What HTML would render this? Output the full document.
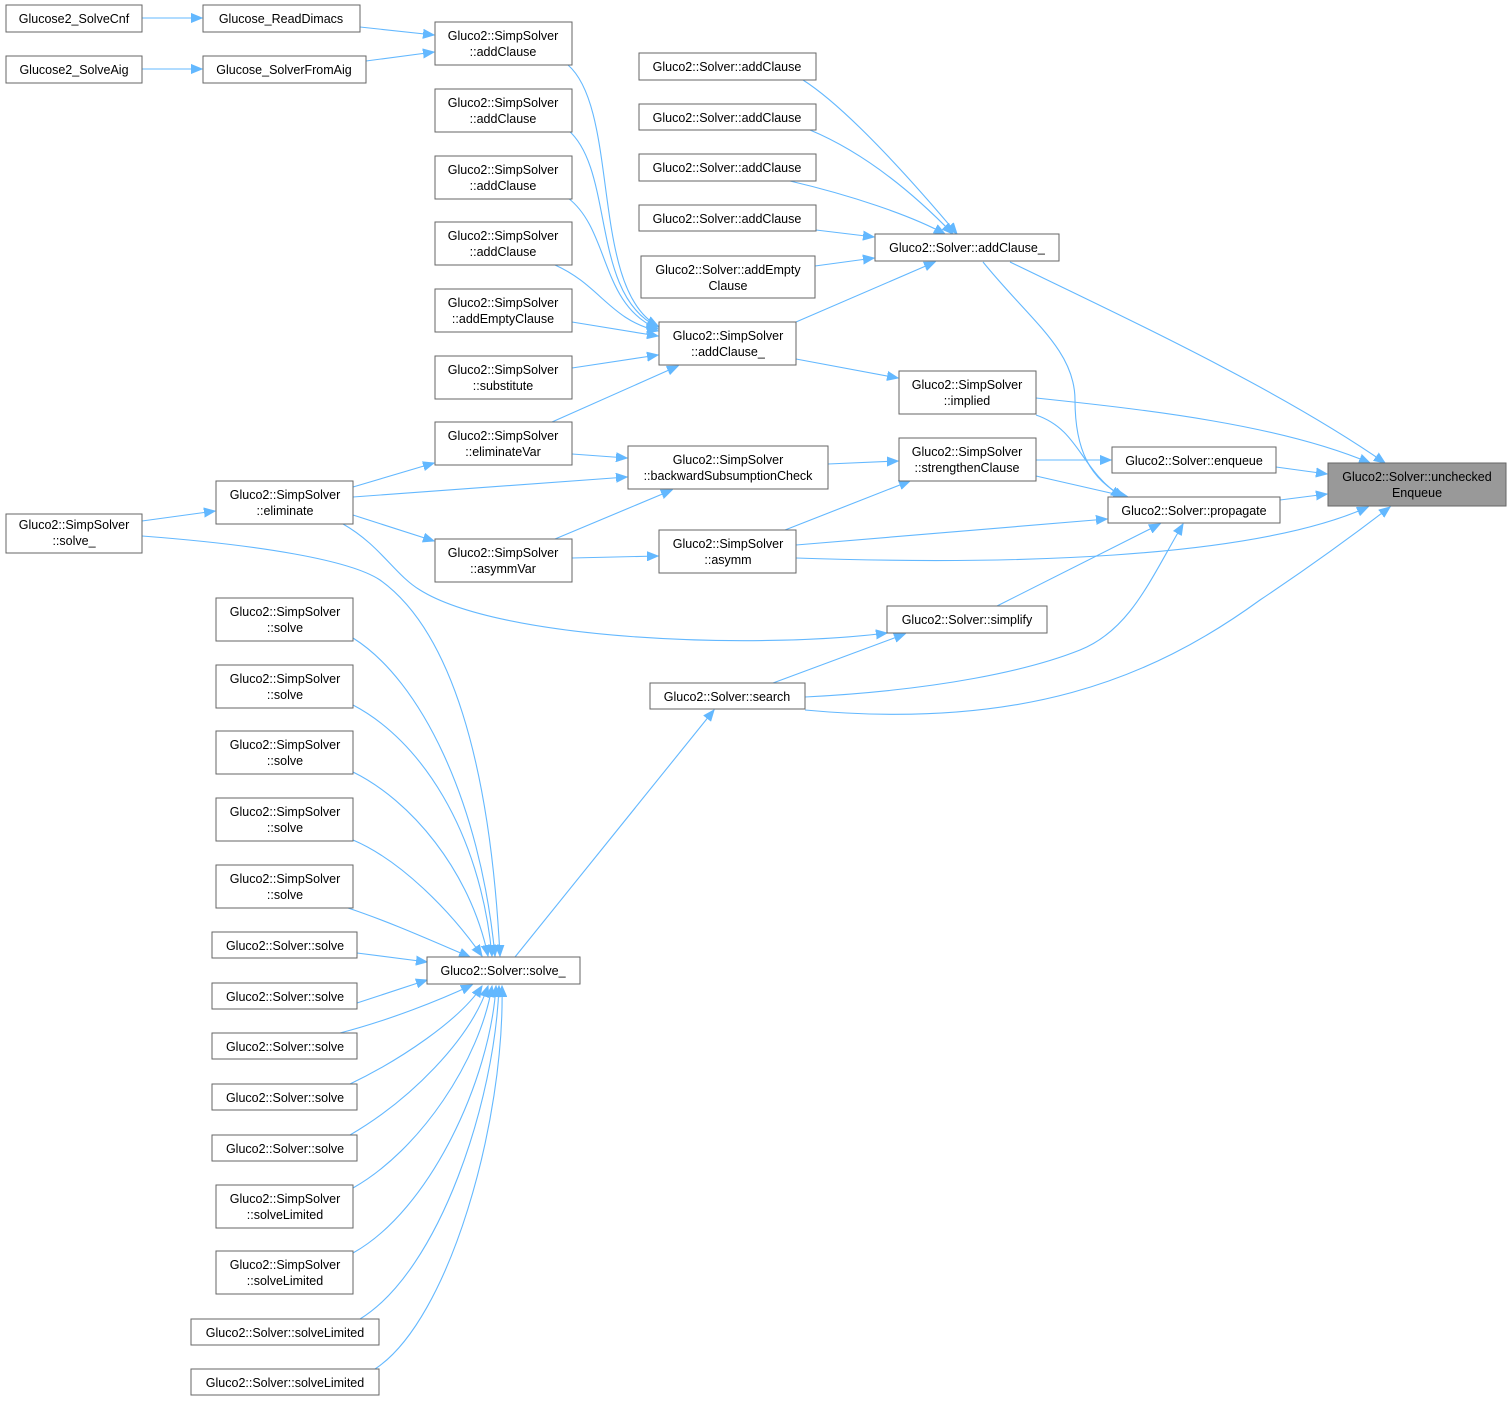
<!DOCTYPE html>
<html><head><meta charset="utf-8"><style>
html,body{margin:0;padding:0;background:#fff;}
svg{display:block;}
text{font-family:"Liberation Sans",Arial,sans-serif;font-size:12.5px;fill:#000;text-anchor:middle;}
.n{fill:#fff;stroke:#666;stroke-width:1;}
.e{fill:none;stroke:#63b8ff;stroke-width:1.1;marker-end:url(#a);}
</style></head><body>
<svg width="1512" height="1401" viewBox="0 0 1512 1401" xmlns="http://www.w3.org/2000/svg">
<defs><marker id="a" markerUnits="userSpaceOnUse" markerWidth="12" markerHeight="10" refX="11" refY="5" orient="auto"><path d="M0,0.5 L11,5 L0,9.5 z" fill="#63b8ff" stroke="#63b8ff"/></marker></defs>

<!-- edges -->
<path class="e" d="M142,18 L202,18"/>
<path class="e" d="M142,69 L202,69"/>
<path class="e" d="M360,27 L434,35"/>
<path class="e" d="M366,61 L434,52"/>
<path class="e" d="M568,65 C620,110 590,290 658,326"/>
<path class="e" d="M568,130 C615,170 590,295 658,327"/>
<path class="e" d="M568,198 C610,230 600,305 658,329"/>
<path class="e" d="M555,265 C600,285 610,320 658,331"/>
<path class="e" d="M572,322 L658,336"/>
<path class="e" d="M572,368 L658,355"/>
<path class="e" d="M552,422 L678,366"/>
<path class="e" d="M353,487 L434,463"/>
<path class="e" d="M353,515 L434,541"/>
<path class="e" d="M353,497 L627,477"/>
<path class="e" d="M572,454 L627,458"/>
<path class="e" d="M555,539 L672,490"/>
<path class="e" d="M572,558 L658,556"/>
<path class="e" d="M142,521 L215,511"/>
<path class="e" d="M828,464 L898,461"/>
<path class="e" d="M785,530 L910,481"/>
<path class="e" d="M796,359 L898,378"/>
<path class="e" d="M796,322 L935,262"/>
<path class="e" d="M803,80 C850,110 920,190 957,234"/>
<path class="e" d="M810,130 C870,155 920,200 953,234"/>
<path class="e" d="M790,181 C850,195 910,215 945,234"/>
<path class="e" d="M816,230 L874,237"/>
<path class="e" d="M815,266 L874,258"/>
<path class="e" d="M1010,262 C1130,320 1280,390 1385,463"/>
<path class="e" d="M983,262 C1030,320 1075,350 1075,400 C1075,450 1090,480 1125,497"/>
<path class="e" d="M1036,398 C1150,410 1280,425 1370,463"/>
<path class="e" d="M1036,415 C1080,430 1080,470 1122,497"/>
<path class="e" d="M1036,460 L1111,460"/>
<path class="e" d="M1036,476 L1128,497"/>
<path class="e" d="M1276,467 L1327,474"/>
<path class="e" d="M1280,500 L1327,494"/>
<path class="e" d="M796,545 L1107,519"/>
<path class="e" d="M796,558 C1000,565 1250,560 1368,507"/>
<path class="e" d="M997,606 L1160,524"/>
<path class="e" d="M343,524 C380,545 395,575 420,590 C500,640 750,650 887,633"/>
<path class="e" d="M773,683 L905,634"/>
<path class="e" d="M805,697 C940,690 1030,670 1080,650 C1130,630 1150,580 1183,524"/>
<path class="e" d="M805,710 C1020,730 1150,680 1260,600 C1320,560 1360,530 1390,507"/>
<path class="e" d="M515,957 L714,710"/>
<path class="e" d="M142,536 C260,545 350,560 380,580 C450,630 490,760 500,956"/>
<path class="e" d="M353,638 C420,680 480,800 495,956"/>
<path class="e" d="M353,705 C420,740 480,830 492,956"/>
<path class="e" d="M353,772 C410,800 470,870 488,956"/>
<path class="e" d="M353,840 C400,860 450,910 482,956"/>
<path class="e" d="M348,908 C390,922 430,940 470,957"/>
<path class="e" d="M357,953 L427,962"/>
<path class="e" d="M357,1003 L427,980"/>
<path class="e" d="M340,1033 C390,1020 440,1000 472,985"/>
<path class="e" d="M350,1084 C400,1060 460,1020 482,986"/>
<path class="e" d="M350,1135 C410,1100 470,1040 488,986"/>
<path class="e" d="M353,1188 C420,1150 480,1060 492,986"/>
<path class="e" d="M353,1253 C430,1210 490,1080 496,986"/>
<path class="e" d="M360,1319 C440,1270 495,1100 499,986"/>
<path class="e" d="M375,1369 C450,1320 505,1120 502,986"/>

<!-- nodes -->
<rect class="n" x="6" y="5" width="136" height="27"/><text x="74" y="23">Glucose2_SolveCnf</text>
<rect class="n" x="6" y="56" width="136" height="27"/><text x="74" y="74">Glucose2_SolveAig</text>
<rect class="n" x="203" y="5" width="157" height="27"/><text x="281" y="23">Glucose_ReadDimacs</text>
<rect class="n" x="203" y="56" width="163" height="27"/><text x="284" y="74">Glucose_SolverFromAig</text>

<rect class="n" x="435" y="22" width="137" height="43"/><text x="503" y="40">Gluco2::SimpSolver</text><text x="503" y="56">::addClause</text>
<rect class="n" x="435" y="89" width="137" height="43"/><text x="503" y="107">Gluco2::SimpSolver</text><text x="503" y="123">::addClause</text>
<rect class="n" x="435" y="156" width="137" height="43"/><text x="503" y="174">Gluco2::SimpSolver</text><text x="503" y="190">::addClause</text>
<rect class="n" x="435" y="222" width="137" height="43"/><text x="503" y="240">Gluco2::SimpSolver</text><text x="503" y="256">::addClause</text>
<rect class="n" x="435" y="289" width="137" height="43"/><text x="503" y="307">Gluco2::SimpSolver</text><text x="503" y="323">::addEmptyClause</text>
<rect class="n" x="435" y="356" width="137" height="43"/><text x="503" y="374">Gluco2::SimpSolver</text><text x="503" y="390">::substitute</text>
<rect class="n" x="435" y="422" width="137" height="43"/><text x="503" y="440">Gluco2::SimpSolver</text><text x="503" y="456">::eliminateVar</text>
<rect class="n" x="435" y="539" width="137" height="43"/><text x="503" y="557">Gluco2::SimpSolver</text><text x="503" y="573">::asymmVar</text>

<rect class="n" x="216" y="481" width="137" height="43"/><text x="285" y="499">Gluco2::SimpSolver</text><text x="285" y="515">::eliminate</text>
<rect class="n" x="6" y="514" width="136" height="39"/><text x="74" y="529">Gluco2::SimpSolver</text><text x="74" y="545">::solve_</text>

<rect class="n" x="216" y="598" width="137" height="43"/><text x="285" y="616">Gluco2::SimpSolver</text><text x="285" y="632">::solve</text>
<rect class="n" x="216" y="665" width="137" height="43"/><text x="285" y="683">Gluco2::SimpSolver</text><text x="285" y="699">::solve</text>
<rect class="n" x="216" y="731" width="137" height="43"/><text x="285" y="749">Gluco2::SimpSolver</text><text x="285" y="765">::solve</text>
<rect class="n" x="216" y="798" width="137" height="43"/><text x="285" y="816">Gluco2::SimpSolver</text><text x="285" y="832">::solve</text>
<rect class="n" x="216" y="865" width="137" height="43"/><text x="285" y="883">Gluco2::SimpSolver</text><text x="285" y="899">::solve</text>
<rect class="n" x="212" y="932" width="145" height="26"/><text x="285" y="950">Gluco2::Solver::solve</text>
<rect class="n" x="212" y="983" width="145" height="26"/><text x="285" y="1001">Gluco2::Solver::solve</text>
<rect class="n" x="212" y="1033" width="145" height="26"/><text x="285" y="1051">Gluco2::Solver::solve</text>
<rect class="n" x="212" y="1084" width="145" height="26"/><text x="285" y="1102">Gluco2::Solver::solve</text>
<rect class="n" x="212" y="1135" width="145" height="26"/><text x="285" y="1153">Gluco2::Solver::solve</text>
<rect class="n" x="216" y="1185" width="137" height="43"/><text x="285" y="1203">Gluco2::SimpSolver</text><text x="285" y="1219">::solveLimited</text>
<rect class="n" x="216" y="1251" width="137" height="43"/><text x="285" y="1269">Gluco2::SimpSolver</text><text x="285" y="1285">::solveLimited</text>
<rect class="n" x="191" y="1319" width="188" height="26"/><text x="285" y="1337">Gluco2::Solver::solveLimited</text>
<rect class="n" x="191" y="1369" width="188" height="26"/><text x="285" y="1387">Gluco2::Solver::solveLimited</text>
<rect class="n" x="427" y="957" width="153" height="27"/><text x="503" y="975">Gluco2::Solver::solve_</text>

<rect class="n" x="639" y="53" width="177" height="27"/><text x="727" y="71">Gluco2::Solver::addClause</text>
<rect class="n" x="639" y="104" width="177" height="26"/><text x="727" y="122">Gluco2::Solver::addClause</text>
<rect class="n" x="639" y="154" width="177" height="27"/><text x="727" y="172">Gluco2::Solver::addClause</text>
<rect class="n" x="639" y="205" width="177" height="26"/><text x="727" y="223">Gluco2::Solver::addClause</text>
<rect class="n" x="641" y="256" width="174" height="42"/><text x="728" y="274">Gluco2::Solver::addEmpty</text><text x="728" y="290">Clause</text>
<rect class="n" x="659" y="322" width="137" height="43"/><text x="728" y="340">Gluco2::SimpSolver</text><text x="728" y="356">::addClause_</text>
<rect class="n" x="628" y="446" width="200" height="43"/><text x="728" y="464">Gluco2::SimpSolver</text><text x="728" y="480">::backwardSubsumptionCheck</text>
<rect class="n" x="659" y="530" width="137" height="43"/><text x="728" y="548">Gluco2::SimpSolver</text><text x="728" y="564">::asymm</text>
<rect class="n" x="887" y="606" width="160" height="27"/><text x="967" y="624">Gluco2::Solver::simplify</text>
<rect class="n" x="650" y="683" width="155" height="26"/><text x="727" y="701">Gluco2::Solver::search</text>

<rect class="n" x="875" y="234" width="184" height="27"/><text x="967" y="252">Gluco2::Solver::addClause_</text>
<rect class="n" x="899" y="371" width="137" height="43"/><text x="967" y="389">Gluco2::SimpSolver</text><text x="967" y="405">::implied</text>
<rect class="n" x="899" y="438" width="137" height="43"/><text x="967" y="456">Gluco2::SimpSolver</text><text x="967" y="472">::strengthenClause</text>
<rect class="n" x="1112" y="447" width="164" height="26"/><text x="1194" y="465">Gluco2::Solver::enqueue</text>
<rect class="n" x="1108" y="497" width="172" height="26"/><text x="1194" y="515">Gluco2::Solver::propagate</text>
<rect x="1328" y="463" width="178" height="43" fill="#999" stroke="#666"/><text x="1417" y="481">Gluco2::Solver::unchecked</text><text x="1417" y="497">Enqueue</text>
</svg>
</body></html>
